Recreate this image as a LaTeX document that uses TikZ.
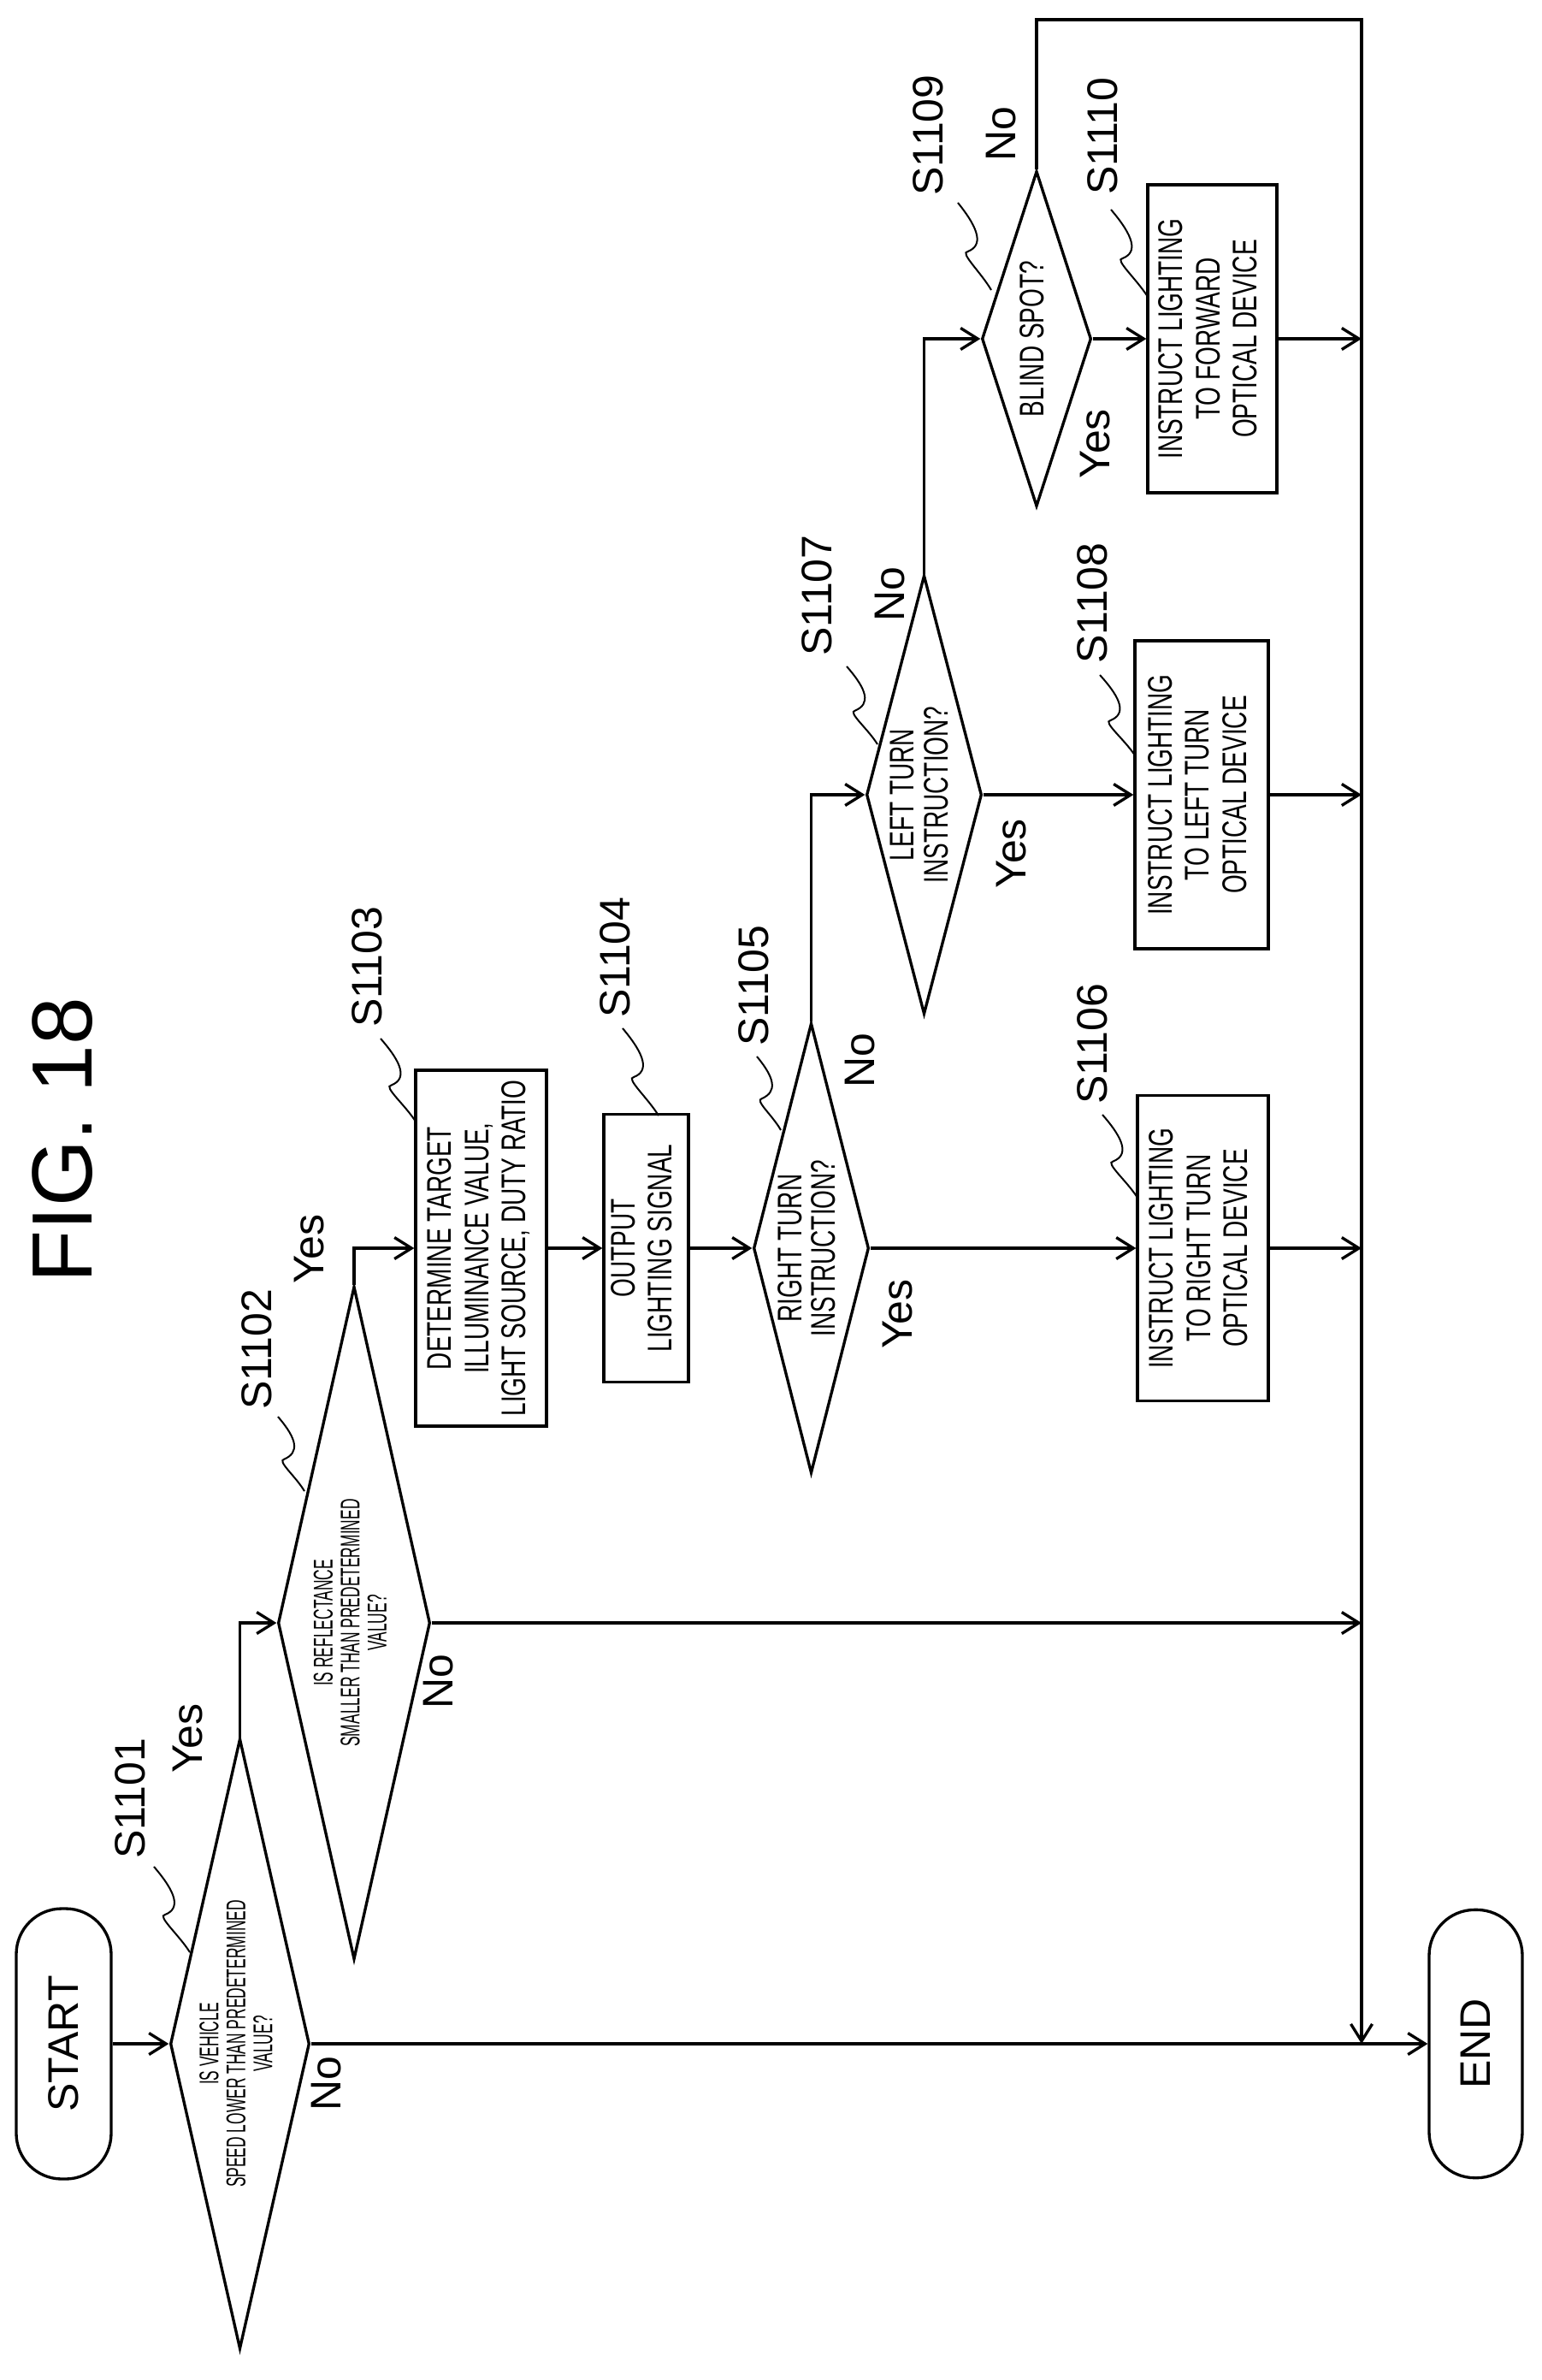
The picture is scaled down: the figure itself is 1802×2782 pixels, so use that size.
\documentclass[tikz,border=0pt]{standalone}
\usepackage{fontspec}
\setmainfont{Liberation Sans}
\newfontfamily\nfA[FakeStretch=0.7]{Liberation Sans}
\newfontfamily\nfB[FakeStretch=0.55]{Liberation Sans}
\usetikzlibrary{shapes.geometric,arrows.meta,calc}
\newcommand\rtext[1]{\rotatebox{90}{\begin{tabular}{@{}c@{}}#1\end{tabular}}}
\begin{document}
\begin{tikzpicture}[x=0.3pt,y=-0.3pt,
  every path/.style={line width=1pt},
  flow/.style={draw,line width=1pt,-{Straight Barb[length=6pt,width=7.5pt,line width=1pt]}},
  box/.style={draw,rectangle,inner sep=0pt,font=\nfA\fontsize{12}{13}\selectfont},
  term/.style={draw,rectangle,rounded corners=16pt,inner sep=0pt,font=\fontsize{15}{18}\selectfont},
  dia/.style={draw,diamond,inner sep=0pt},
  dtxt/.style={inner sep=0pt,font=\nfA\fontsize{12}{11.5}\selectfont},
  dtxtB/.style={inner sep=0pt,font=\nfB\fontsize{9.5}{9.3}\selectfont},
  lbl/.style={rotate=90,inner sep=0pt,font=\fontsize{15}{18}\selectfont},
  leader/.style={draw,line width=0.6pt}]
\useasboundingbox (0,0) rectangle (1802,2782);

\node[lbl,font=\fontsize{30}{36}\selectfont] (fig) at (73,1333) {FIG. 18};

\node[term,minimum width=33.3pt,minimum height=94.8pt] (start) at (74.5,2389) {\rotatebox{90}{START}};
\node[term,minimum width=32.7pt,minimum height=94pt] (endn) at (1725.5,2389) {\rotatebox{90}{END}};

\node[dia,minimum width=48.9pt,minimum height=214pt] (d1) at (280.5,2389) {};
\node[dtxtB] (t1) at (d1.center) {\rtext{IS VEHICLE\\SPEED LOWER THAN PREDETERMINED\\VALUE?}};
\node[dia,minimum width=53.4pt,minimum height=236pt] (d2) at (414,1897) {};
\node[dtxtB] (t2) at (d2.center) {\rtext{IS REFLECTANCE\\SMALLER THAN PREDETERMINED\\VALUE?}};
\node[box,minimum width=45.9pt,minimum height=124.8pt] (b3) at (562.5,1459) {\rtext{DETERMINE TARGET\\ILLUMINANCE VALUE,\\LIGHT SOURCE, DUTY RATIO}};
\node[box,minimum width=29.7pt,minimum height=93.9pt] (b4) at (755.5,1459) {\rtext{OUTPUT\\LIGHTING SIGNAL}};
\node[dia,minimum width=40.5pt,minimum height=157.8pt] (d5) at (948.5,1459) {};
\node[dtxt] (t5) at (d5.center) {\rtext{RIGHT TURN\\INSTRUCTION?}};
\node[box,minimum width=45.9pt,minimum height=107pt] (b6) at (1406.5,1459) {\rtext{INSTRUCT LIGHTING\\TO RIGHT TURN\\OPTICAL DEVICE}};
\node[dia,minimum width=40.5pt,minimum height=153.9pt] (d7) at (1080.5,929) {};
\node[dtxt] (t7) at (d7.center) {\rtext{LEFT TURN\\INSTRUCTION?}};
\node[box,minimum width=46.8pt,minimum height=108pt] (b8) at (1405,929) {\rtext{INSTRUCT LIGHTING\\TO LEFT TURN\\OPTICAL DEVICE}};
\node[dia,minimum width=38.4pt,minimum height=117.6pt] (d9) at (1212,396) {};
\node[dtxt] (t9) at (d9.center) {\rtext{BLIND SPOT?}};
\node[box,minimum width=45.3pt,minimum height=108pt] (b10) at (1417.5,396) {\rtext{INSTRUCT LIGHTING\\TO FORWARD\\OPTICAL DEVICE}};

\coordinate (c2) at (1592,1897);
\coordinate (c6) at (1592,1459);
\coordinate (c8) at (1592,929);
\coordinate (c10) at (1592,396);
\coordinate (tl) at (1212,23);
\coordinate (tr) at (1592,23);
\coordinate (cm) at (1592,2389);

\path[flow] (start.east) -- (d1.west);
\path[flow] (d1.north) |- (d2.west);
\path[flow] (d1.east) -- (endn.west);
\path[flow] (d2.east) -- (c2);
\path[flow] (d2.north) |- (b3.west);
\path[flow] (b3.east) -- (b4.west);
\path[flow] (b4.east) -- (d5.west);
\path[flow] (d5.east) -- (b6.west);
\path[flow] (b6.east) -- (c6);
\path[flow] (d5.north) |- (d7.west);
\path[flow] (d7.east) -- (b8.west);
\path[flow] (b8.east) -- (c8);
\path[flow] (d7.north) |- (d9.west);
\path[flow] (d9.east) -- (b10.west);
\path[flow] (b10.east) -- (c10);
\path[flow] (d9.north) -- (tl) -- (tr) -- (cm);

% step labels
\node[lbl] (l1) at (152,2102) {S1101};
\node[lbl] (l2) at (300,1577) {S1102};
\node[lbl] (l3) at (429,1130) {S1103};
\node[lbl] (l4) at (719,1119) {S1104};
\node[lbl] (l5) at (881,1152) {S1105};
\node[lbl] (l6) at (1277,1220) {S1106};
\node[lbl] (l7) at (955,696) {S1107};
\node[lbl] (l8) at (1277,705) {S1108};
\node[lbl] (l9) at (1085,158) {S1109};
\node[lbl] (l10) at (1289,159) {S1110};

% yes/no labels
\node[lbl] (y1) at (220,2032) {Yes};
\node[lbl] (n1) at (382,2436) {No};
\node[lbl] (y2) at (362,1460) {Yes};
\node[lbl] (n2) at (513,1966) {No};
\node[lbl] (y5) at (1050,1536) {Yes};
\node[lbl] (n5) at (1006,1240) {No};
\node[lbl] (y7) at (1183,998) {Yes};
\node[lbl] (n7) at (1041,695) {No};
\node[lbl] (y9) at (1281,519) {Yes};
\node[lbl] (n9) at (1171,157) {No};

% leader squiggles
\newcommand\squig[2]{%
  \path[leader] (#1) .. controls ($(#1)!0.35!(#2)+(12,-4)$) and ($(#1)!0.55!(#2)+(8,-6)$) .. ($(#1)!0.5!(#2)+(-8,6)$)
   .. controls ($(#1)!0.45!(#2)+(-16,12)$) and ($(#1)!0.8!(#2)+(-4,0)$) .. (#2);}
\coordinate (a1) at (180,2182); \coordinate (e1) at (222,2282); \squig{a1}{e1}
\coordinate (a2) at (325,1656); \coordinate (e2) at (356,1743); \squig{a2}{e2}
\coordinate (a3) at (445,1214); \coordinate (e3) at (486,1311); \squig{a3}{e3}
\coordinate (a4) at (728,1202); \coordinate (e4) at (770,1304); \squig{a4}{e4}
\coordinate (a5) at (885,1235); \coordinate (e5) at (913,1321); \squig{a5}{e5}
\coordinate (a6) at (1289,1303); \coordinate (e6) at (1330,1400); \squig{a6}{e6}
\coordinate (a7) at (990,779); \coordinate (e7) at (1026,870); \squig{a7}{e7}
\coordinate (a8) at (1286,789); \coordinate (e8) at (1327,883); \squig{a8}{e8}
\coordinate (a9) at (1120,237); \coordinate (e9) at (1159,339); \squig{a9}{e9}
\coordinate (a10) at (1299,245); \coordinate (e10) at (1342,347); \squig{a10}{e10}
\end{tikzpicture}
\end{document}
